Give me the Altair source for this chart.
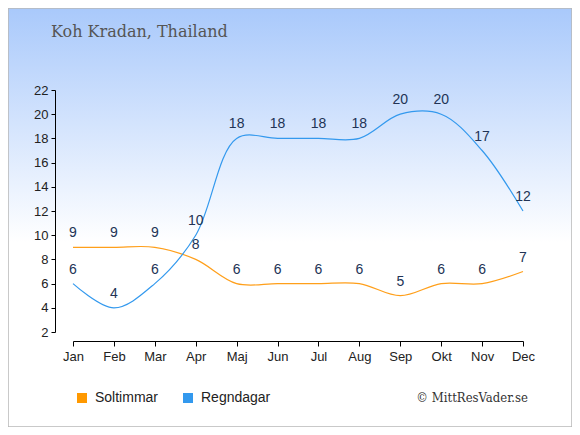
import altair as alt
import pandas as pd

months = ["Jan", "Feb", "Mar", "Apr", "Maj", "Jun", "Jul", "Aug", "Sep", "Okt", "Nov", "Dec"]
soltimmar = [9, 9, 9, 8, 6, 6, 6, 6, 5, 6, 6, 7]
regndagar = [6, 4, 6, 10, 18, 18, 18, 18, 20, 20, 17, 12]
series_names = ["Soltimmar", "Regndagar"]
series_colors = ["#ff9f1a", "#3399ee"]
legend_colors = ["#ff9900", "#3399ee"]
y_ticks = list(range(2, 23, 2))

rows = []
for name, vals in zip(series_names, [soltimmar, regndagar]):
    for m, v in zip(months, vals):
        rows.append({"month": m, "value": v, "series": name})
df = pd.DataFrame(rows)

W, H = 450, 242
PL, PT, PR, PB = 65, 82, 49, 95

one = alt.Data(values=[{}])

bg = alt.Chart(one).mark_rect(
    color=alt.Gradient(
        gradient="linear",
        stops=[alt.GradientStop(color="#a9c9fb", offset=0),
               alt.GradientStop(color="#ffffff", offset=0.56),
               alt.GradientStop(color="#ffffff", offset=1)],
        x1=0, x2=0, y1=0, y2=1),
    stroke="#b8b8b8", strokeWidth=1.5
).encode(
    x=alt.value(-PL), x2=alt.value(W + PR),
    y=alt.value(-PT), y2=alt.value(H + PB)
)

title = alt.Chart(one).mark_text(
    text="Koh Kradan, Thailand", font="DejaVu Serif", fontSize=16,
    color="#555555", align="left", baseline="middle"
).encode(x=alt.value(-22), y=alt.value(-58))

copyright_t = alt.Chart(one).mark_text(
    text="© MittResVader.se", font="DejaVu Serif Condensed", fontSize=13,
    color="#333333", align="right", baseline="middle"
).encode(x=alt.value(455), y=alt.value(308))

legend_layers = []
for i, (name, col) in enumerate(zip(series_names, legend_colors)):
    x0 = 9 + i * 106
    legend_layers.append(alt.Chart(one).mark_square(size=100, color=col, opacity=1).encode(
        x=alt.value(x0), y=alt.value(308)))
    legend_layers.append(alt.Chart(one).mark_text(
        text=name, font="Liberation Sans", fontSize=14, color="#222222",
        align="left", baseline="middle").encode(x=alt.value(x0 + 13), y=alt.value(308)))

xaxis = alt.Axis(title=None, labelAngle=0, offset=9, grid=False, zindex=1,
                 domainColor="#000000", tickColor="#000000", tickSize=5,
                 labelFont="Liberation Sans", labelFontSize=13,
                 labelColor="#222222", labelPadding=4, labelOverlap=False)
yaxis = alt.Axis(title=None, values=y_ticks, tickCount=11, offset=18, grid=False, zindex=1,
                 domainColor="#000000", tickColor="#000000", tickSize=4,
                 labelFont="Liberation Sans", labelFontSize=13,
                 labelColor="#222222", labelPadding=3, labelOverlap=False,
                 labelBound=False, labelFlush=False)

def xenc():
    return alt.X("month:N", sort=months, scale=alt.Scale(type="point", padding=0), axis=xaxis)

def yenc():
    return alt.Y("value:Q", scale=alt.Scale(domain=[2, 22], nice=False, zero=False), axis=yaxis)

lines = alt.Chart(df).mark_line(interpolate="catmull-rom", strokeWidth=1.2).encode(
    x=xenc(), y=yenc(),
    color=alt.Color("series:N", sort=series_names,
                    scale=alt.Scale(domain=series_names, range=series_colors),
                    legend=None),
    detail="series:N"
)

labels = alt.Chart(df).mark_text(
    font="Liberation Sans", fontSize=14, color="#223355", baseline="middle", dy=-14
).encode(
    x=xenc(), y=yenc(), text="value:Q", detail="series:N"
)

chart = alt.layer(bg, title, copyright_t, *legend_layers, lines, labels).properties(
    width=W, height=H,
    autosize=alt.AutoSizeParams(type="none"),
    padding={"left": PL, "top": PT, "right": PR, "bottom": PB}
).configure_view(stroke=None)

chart.save("out.html", embed_options={"renderer": "svg", "actions": False})
